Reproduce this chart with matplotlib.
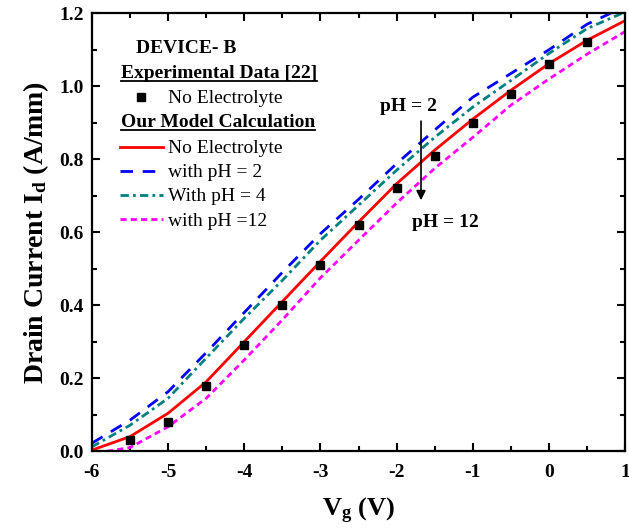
import matplotlib
matplotlib.use("Agg")
import matplotlib.pyplot as plt
from matplotlib.lines import Line2D

plt.rcParams['font.family'] = ['Liberation Serif', 'DejaVu Serif']
plt.rcParams['mathtext.fontset'] = 'custom'
plt.rcParams['mathtext.rm'] = 'Liberation Serif:bold'
plt.rcParams['mathtext.it'] = 'Liberation Serif:bold'
plt.rcParams['mathtext.bf'] = 'Liberation Serif:bold'

# ---- data ----
vg = [-6, -5.5, -5, -4.5, -4, -3.5, -3, -2.5, -2, -1.5, -1, -0.5, 0, 0.5, 1]
id_no_elec = [0.003, 0.04, 0.104, 0.19, 0.30, 0.41, 0.52, 0.628, 0.733, 0.825, 0.91, 0.989, 1.062, 1.126, 1.18]

vg_ph2 = [-6, -5.5, -5, -4.5, -4, -3.5, -3, -2.5, -2, -1.5, -1, -0.5, 0, 0.5, 0.81]
id_ph2 = [0.022, 0.085, 0.163, 0.27, 0.38, 0.49, 0.596, 0.69, 0.788, 0.88, 0.97, 1.035, 1.10, 1.17, 1.2]

vg_ph4 = [-6, -5.5, -5, -4.5, -4, -3.5, -3, -2.5, -2, -1.5, -1, -0.5, 0, 0.5, 0.96]
id_ph4 = [0.012, 0.071, 0.145, 0.255, 0.364, 0.468, 0.578, 0.674, 0.77, 0.86, 0.943, 1.016, 1.09, 1.158, 1.2]

vg_ph12 = [-5.8, -5.5, -5, -4.5, -4, -3.5, -3, -2.5, -2, -1.5, -1, -0.5, 0, 0.5, 1]
id_ph12 = [0.0, 0.01, 0.067, 0.145, 0.25, 0.36, 0.475, 0.578, 0.68, 0.775, 0.86, 0.948, 1.02, 1.088, 1.15]

vg_exp = [-5.5, -5, -4.5, -4, -3.5, -3, -2.5, -2, -1.5, -1, -0.5, 0, 0.5]
id_exp = [0.03, 0.08, 0.18, 0.29, 0.40, 0.51, 0.62, 0.72, 0.81, 0.90, 0.98, 1.06, 1.12]

xticks = [-6, -5, -4, -3, -2, -1, 0, 1]
yticks = [0.0, 0.2, 0.4, 0.6, 0.8, 1.0, 1.2]

fig = plt.figure(figsize=(6.29, 5.29), dpi=100)
ax = fig.add_axes([0.146, 0.147, 0.848, 0.828])

sq, = ax.plot(vg_exp, id_exp, 's', color='black', ms=6, ls='none', label='No Electrolyte', zorder=5)
l_red, = ax.plot(vg, id_no_elec, '-', color='#ff0000', lw=2.0, label='No Electrolyte')
l_blue, = ax.plot(vg_ph2, id_ph2, color='#0000ff', lw=2.0, dashes=(4.5, 3.5), label='with pH = 2')
l_teal, = ax.plot(vg_ph4, id_ph4, color='#008080', lw=2.0, dashes=(3, 1.5, 1, 1.5), label='With pH = 4')
l_mag, = ax.plot(vg_ph12, id_ph12, color='#ff00ff', lw=2.0, dashes=(2.2, 1.5), label='with pH =12')

ax.set_xlim(-6, 1)
ax.set_ylim(0, 1.2)
ax.set_xticks(xticks)
ax.set_yticks(yticks)
ax.set_xticklabels([str(t) for t in xticks])
ax.set_yticklabels([f'{t:.1f}' for t in yticks])
ax.set_xticks([-5.5, -4.5, -3.5, -2.5, -1.5, -0.5, 0.5], minor=True)
ax.set_yticks([0.1, 0.3, 0.5, 0.7, 0.9, 1.1], minor=True)
ax.tick_params(which='both', direction='in', top=True, right=True, width=1.5)
ax.tick_params(which='major', length=6, labelsize=14)
ax.tick_params(axis='x', which='major', pad=9)
ax.tick_params(axis='y', which='major', pad=6)
ax.tick_params(which='minor', length=3.5)
for lab in ax.get_xticklabels() + ax.get_yticklabels():
    lab.set_fontweight('bold')
for s in ax.spines.values():
    s.set_linewidth(1.6)

ax.set_xlabel(r'V$_\mathregular{g}$ (V)', fontsize=19, fontweight='bold', labelpad=11)
ax.set_ylabel(r'Drain Current I$_\mathregular{d}$ (A/mm)', fontsize=20, fontweight='bold', labelpad=6)

# headers
ax.text(0.083, 0.920, 'DEVICE- B', transform=ax.transAxes, fontsize=14, fontweight='bold', va='center', ha='left')
h1 = ax.text(0.054, 0.863, 'Experimental Data [22]', transform=ax.transAxes, fontsize=14, fontweight='bold', va='center', ha='left')
h2 = ax.text(0.054, 0.751, 'Our Model Calculation', transform=ax.transAxes, fontsize=14, fontweight='bold', va='center', ha='left')

leg1 = ax.legend(handles=[sq], loc='upper left', bbox_to_anchor=(0.0525, 0.825), frameon=False,
                 fontsize=14, borderpad=0, borderaxespad=0, handlelength=2.2, handletextpad=0.3, numpoints=1)
ax.add_artist(leg1)
leg2 = ax.legend(handles=[l_red, l_blue, l_teal, l_mag], loc='upper left', bbox_to_anchor=(0.0525, 0.711),
                 frameon=False, fontsize=14, borderpad=0, borderaxespad=0, handlelength=2.2,
                 handletextpad=0.3, labelspacing=0.33)

# arrow annotation
ax.annotate('', xy=(-1.68, 0.68), xytext=(-1.68, 0.912),
            arrowprops=dict(arrowstyle='-|>', color='black', lw=1.2, mutation_scale=14))
ax.text(-1.85, 0.944, 'pH = 2', fontsize=14, fontweight='bold', ha='center', va='center')
ax.text(-1.36, 0.627, 'pH = 12', fontsize=14, fontweight='bold', ha='center', va='center')

# underlines for headers
fig.canvas.draw()
r = fig.canvas.get_renderer()
for t in (h1, h2):
    bb = t.get_window_extent(renderer=r)
    fig.add_artist(Line2D([bb.x0, bb.x1], [bb.y0 + 1, bb.y0 + 1], transform=None, color='black', lw=1.3))

fig.savefig('out.png', dpi=100)
